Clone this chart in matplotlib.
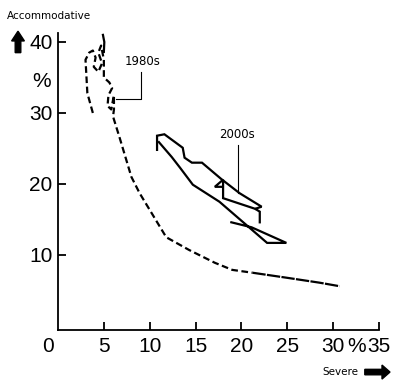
import matplotlib
matplotlib.use("Agg")
import matplotlib.pyplot as plt

# 1980s path (dashed)
x_1980s = [3.8, 3.2, 3.0, 3.4, 3.8, 4.1, 3.9, 4.4, 4.8, 4.4, 4.7, 5.0, 5.0, 5.6, 5.9,
           5.5, 5.4, 5.8, 6.1, 6.1, 6.0, 6.7, 8.0, 8.9, 11.8, 14.3, 17.1, 19.0, 21.2]
y_1980s = [30.0, 32.8, 37.5, 38.5, 38.8, 37.8, 36.5, 35.8, 37.0, 38.5, 39.5, 37.5, 35.0, 34.3, 33.5,
           32.5, 31.0, 30.5, 32.5, 30.5, 29.5, 26.6, 21.0, 18.7, 12.5, 10.7, 8.9, 7.9, 7.5]
# solid bits of the same curve
x_1980s_top = [5.0, 5.05, 4.9]
y_1980s_top = [38.6, 40.0, 41.0]
x_1980s_tail = [21.2, 24.9, 28.5, 30.7]
y_1980s_tail = [7.5, 6.8, 6.1, 5.6]

# 2000s paths (solid)
x_2000s_a = [10.8, 10.8, 11.6, 13.6, 13.8, 14.6, 15.7, 17.8, 19.8, 22.2, 21.5, 22.0, 22.0]
y_2000s_a = [24.8, 26.8, 27.0, 25.1, 23.7, 23.0, 23.0, 20.7, 18.7, 16.8, 16.5, 16.1, 14.6]
x_2000s_b = [11.0, 12.4, 13.3, 14.7, 17.6, 22.8, 24.9, 21.1, 18.9]
y_2000s_b = [25.9, 23.8, 22.3, 19.9, 17.5, 11.7, 11.7, 13.9, 14.6]
x_2000s_c = [21.5, 18.0, 18.0, 17.1, 17.9]
y_2000s_c = [16.5, 18.0, 20.6, 19.6, 19.6]

xticks = [5, 10, 15, 20, 25, 30, 35]
yticks = [10, 20, 30, 40]

tickfont = ["Liberation Sans", "DejaVu Sans"]

fig = plt.figure(figsize=(4, 3.9), dpi=100)
ax = fig.add_axes([0.145, 0.154, 0.8025, 0.762])

ax.plot(x_1980s, y_1980s, color="black", lw=1.6, linestyle=(0, (3, 1.6)))
ax.plot(x_1980s_top, y_1980s_top, color="black", lw=1.6)
ax.plot(x_1980s_tail, y_1980s_tail, color="black", lw=1.6, linestyle=(0, (6, 0.6)))

for xs, ys in [(x_2000s_a, y_2000s_a), (x_2000s_b, y_2000s_b), (x_2000s_c, y_2000s_c)]:
    ax.plot(xs, ys, color="black", lw=1.6, solid_joinstyle="miter")

# labels with leader lines
ax.text(9.2, 37.2, "1980s", fontsize=8.5, ha="center", va="center")
ax.plot([9.0, 9.0, 6.3], [35.8, 32.0, 32.0], color="black", lw=0.8)
ax.text(19.5, 27.0, "2000s", fontsize=8.5, ha="center", va="center")
ax.plot([19.6, 19.6], [25.5, 18.7], color="black", lw=0.8)

ax.set_xlim(0, 35)
ax.set_ylim(-0.56, 41.3)
ax.spines["top"].set_visible(False)
ax.spines["right"].set_visible(False)
for s in ["left", "bottom"]:
    ax.spines[s].set_linewidth(1.3)

ax.set_xticks(xticks)
ax.set_yticks(yticks)
ax.tick_params(direction="in", length=6, width=1.3)
ax.tick_params(axis="x", pad=5)
ax.tick_params(axis="y", pad=4)
for lab in ax.get_xticklabels() + ax.get_yticklabels():
    lab.set_family(tickfont)
    lab.set_fontsize(15)

# extra axis texts, placed like the tick labels
for xv, s in [(-1.1, "0"), (32.5, "%")]:
    ax.annotate(s, (xv, 0), xycoords=("data", "axes fraction"), xytext=(0, -5),
                textcoords="offset points", fontsize=15, family=tickfont,
                ha="center", va="top", annotation_clip=False)
ax.text(-1.75, 34.5, "%", fontsize=15, family=tickfont, ha="center", va="center")

fig.text(0.0175, 0.959, "Accommodative", fontsize=7.5, ha="left", va="center")
fig.text(0.805, 0.046, "Severe", fontsize=7.5, ha="left", va="center")

fig.patches.append(matplotlib.patches.FancyArrow(
    0.045, 0.865, 0, 0.055, width=0.014, head_width=0.032, head_length=0.025,
    length_includes_head=True, color="black", transform=fig.transFigure))
fig.patches.append(matplotlib.patches.FancyArrow(
    0.912, 0.046, 0.063, 0, width=0.014, head_width=0.036, head_length=0.02,
    length_includes_head=True, color="black", transform=fig.transFigure))

fig.savefig("out.png", dpi=100)
